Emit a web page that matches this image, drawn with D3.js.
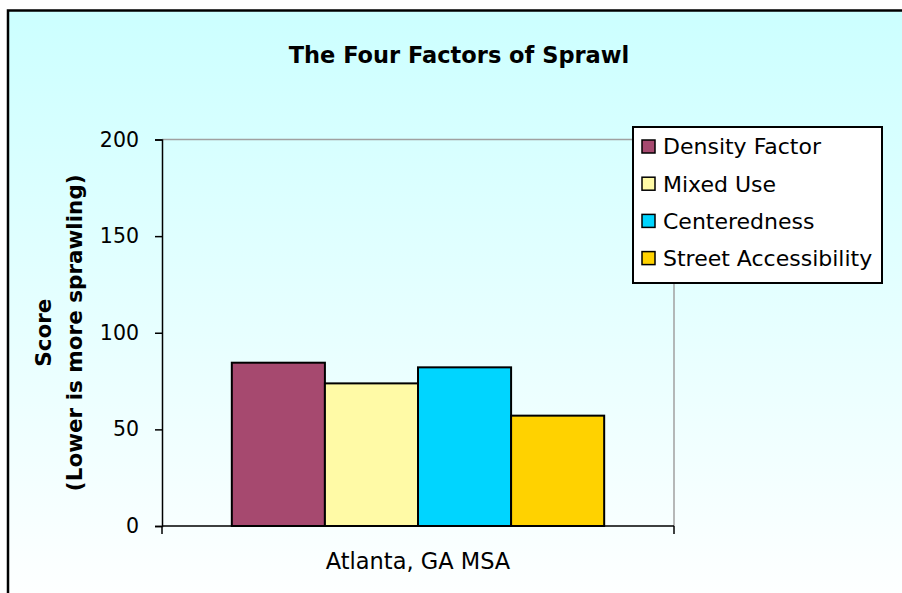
<!DOCTYPE html>
<html>
<head>
<meta charset="utf-8">
<script src="https://cdn.jsdelivr.net/npm/d3@7"></script>
<style>
  html, body { margin: 0; padding: 0; background: #fff; }
  svg { display: block; }
  text { font-family: "DejaVu Sans", sans-serif; fill: #000; }
</style>
</head>
<body>
<svg id="chart" width="902" height="593"></svg>
<script>
// ---- data ----
const title = "The Four Factors of Sprawl";
const categories = ["Atlanta, GA MSA"];
const seriesNames = ["Density Factor", "Mixed Use", "Centeredness", "Street Accessibility"];
const seriesValues = [84.5, 73.8, 82.1, 57.1];
const seriesColors = ["#a6496f", "#fffaa6", "#00d5ff", "#ffd200"];
const yTicks = [0, 50, 100, 150, 200];
const yTitle = ["Score", "(Lower is more sprawling)"];

// ---- layout ----
const W = 902, H = 593;
const plot = { left: 162, right: 674, top: 139.5, bottom: 526 };

const svg = d3.select("#chart");
const defs = svg.append("defs");
const grad = defs.append("linearGradient").attr("id", "bg")
  .attr("x1", 0).attr("y1", 0).attr("x2", 0).attr("y2", 1);
grad.append("stop").attr("offset", "0%").attr("stop-color", "#ccffff");
grad.append("stop").attr("offset", "100%").attr("stop-color", "#ffffff");

svg.append("rect").attr("width", W).attr("height", H).attr("fill", "#fff");
svg.append("rect").attr("x", 8).attr("y", 10.5).attr("width", W + 10).attr("height", H + 10)
  .attr("fill", "url(#bg)").attr("stroke", "#000").attr("stroke-width", 2.5);

// scales
const y = d3.scaleLinear().domain([0, 200]).range([plot.bottom, plot.top]);
const x0 = d3.scaleBand().domain(categories).range([plot.left, plot.right])
  .paddingInner(0).paddingOuter(0.1875);
const x1 = d3.scaleBand().domain(seriesNames).range([0, x0.bandwidth()]).padding(0);

// plot border (top & right gray)
svg.append("line").attr("x1", plot.left).attr("x2", plot.right).attr("y1", plot.top).attr("y2", plot.top)
  .attr("stroke", "#a0a0a0").attr("stroke-width", 1.5);
svg.append("line").attr("x1", plot.right).attr("x2", plot.right).attr("y1", plot.top).attr("y2", plot.bottom)
  .attr("stroke", "#a0a0a0").attr("stroke-width", 1.5);

// bars
const g = svg.append("g");
categories.forEach(cat => {
  g.selectAll(null).data(seriesNames).enter().append("rect")
    .attr("x", d => x0(cat) + x1(d))
    .attr("y", (d, i) => y(seriesValues[i]))
    .attr("width", x1.bandwidth())
    .attr("height", (d, i) => y(0) - y(seriesValues[i]))
    .attr("fill", (d, i) => seriesColors[i])
    .attr("stroke", "#000").attr("stroke-width", 2);
});

// y axis
const yAxis = svg.append("g").attr("transform", `translate(${plot.left},0)`)
  .call(d3.axisLeft(y).tickValues(yTicks).tickSize(7).tickPadding(16).tickFormat(d3.format("d")));
yAxis.select(".domain").attr("stroke", "#000").attr("stroke-width", 1.5);
yAxis.selectAll(".tick line").attr("stroke", "#000").attr("stroke-width", 1.5);
yAxis.selectAll(".tick text").style("font-family", "DejaVu Sans").style("font-size", "20.5px").attr("fill", "#000");

// x axis
const xEdges = [plot.left, plot.right];
svg.append("line").attr("x1", plot.left).attr("x2", plot.right).attr("y1", plot.bottom).attr("y2", plot.bottom)
  .attr("stroke", "#000").attr("stroke-width", 1.5);
svg.selectAll(null).data(xEdges).enter().append("line")
  .attr("x1", d => d).attr("x2", d => d).attr("y1", plot.bottom).attr("y2", plot.bottom + 8)
  .attr("stroke", "#000").attr("stroke-width", 1.5);
svg.selectAll(null).data(categories).enter().append("text")
  .attr("x", d => x0(d) + x0.bandwidth() / 2).attr("y", 569)
  .attr("text-anchor", "middle").style("font-size", "22.5px").text(d => d);

// title
svg.append("text").attr("x", 459).attr("y", 63).attr("text-anchor", "middle")
  .style("font-size", "22.5px").style("font-weight", "bold").text(title);

// y title
const yt = svg.append("text").attr("transform", `translate(0,${(plot.top + plot.bottom) / 2}) rotate(-90)`)
  .attr("text-anchor", "middle").style("font-size", "21.5px").style("font-weight", "bold");
yt.append("tspan").attr("x", 0).attr("y", 51).text(yTitle[0]);
yt.append("tspan").attr("x", 0).attr("y", 82).text(yTitle[1]);

// legend
const leg = svg.append("g");
leg.append("rect").attr("x", 633).attr("y", 127).attr("width", 249).attr("height", 156)
  .attr("fill", "#fff").attr("stroke", "#000").attr("stroke-width", 2);
const items = leg.selectAll(null).data(seriesNames).enter().append("g")
  .attr("transform", (d, i) => `translate(642,${146.5 + i * 37.2})`);
items.append("rect").attr("x", 0).attr("y", -6.5).attr("width", 13).attr("height", 13)
  .attr("fill", (d, i) => seriesColors[i]).attr("stroke", "#000").attr("stroke-width", 1.5);
items.append("text").attr("x", 21).attr("y", 0).attr("dy", "0.36em")
  .style("font-size", "22px").text(d => d);
</script>
</body>
</html>
